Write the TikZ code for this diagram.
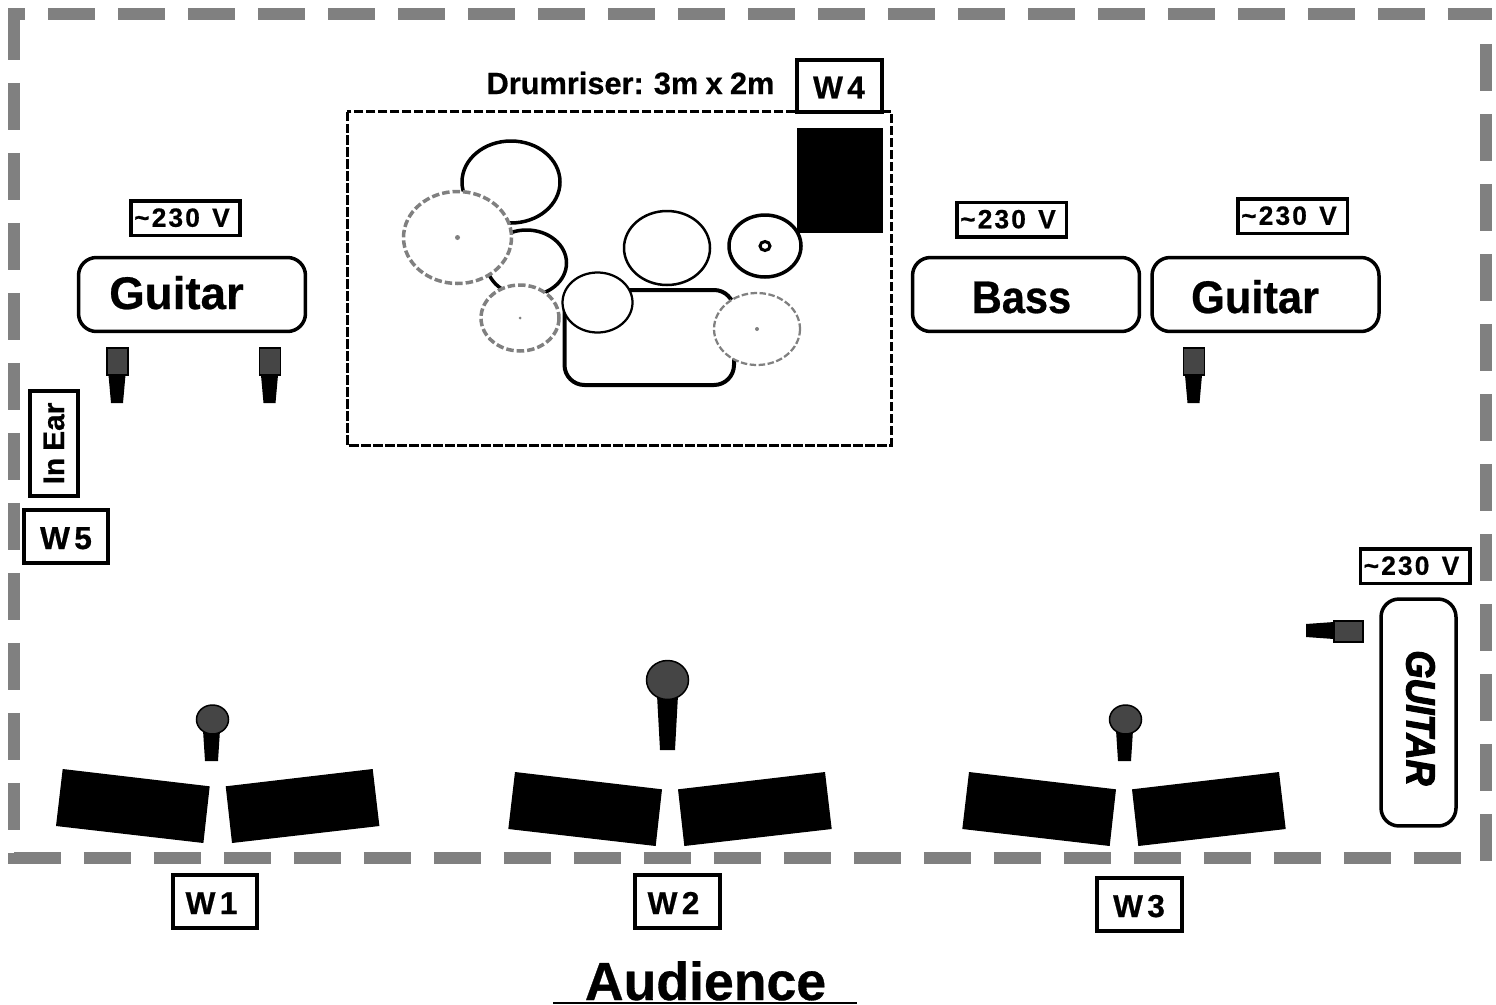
\documentclass[tikz,border=0pt]{standalone}
\usepackage{fontspec}
\setmainfont{Liberation Sans}[BoldFeatures={FakeBold=.6},WordSpace=.85]
\newfontfamily\voltfont[LetterSpace=8,WordSpace=1.3,BoldFeatures={FakeBold=.6}]{Liberation Sans}
\newfontfamily\wedgefont[WordSpace=0.5,BoldFeatures={FakeBold=.6}]{Liberation Sans}
\newfontfamily\heavyfont[BoldItalicFeatures={FakeBold=3}]{Liberation Sans}
\newcommand{\voltage}{\textasciitilde 230 V\hspace*{.14cm}}

\begin{document}
\begin{tikzpicture}
		[x=.02cm,y=-.02cm,
		stage line/.style={line width=.24cm,color=gray,dash pattern=on .94cm off .46cm},
		volt box/.style={draw,line width=.07cm,fill=white,inner sep=0pt,minimum width=2.19cm,minimum height=.69cm,text height=.35cm,text depth=0pt,font=\fontsize{15}{17}\selectfont\bfseries\voltfont},
		wedge box/.style={draw,line width=.08cm,fill=white,inner sep=0pt,minimum width=1.7cm,minimum height=1.06cm,text height=.5cm,text depth=0pt,font=\fontsize{18}{20}\selectfont\bfseries\wedgefont},
		amp box/.style={draw,line width=.07cm,rounded corners=.36cm,inner sep=0pt,minimum width=4.54cm,minimum height=1.48cm},
		amp text/.style={anchor=base,inner sep=0pt,font=\fontsize{26}{28}\selectfont\bfseries},
		drum/.style={draw,line width=.07cm,fill=white},
		cymbal/.style={draw=gray,fill=white,line width=.07cm,dashed,dash pattern=on .15cm off .06cm},
		cymbal dot/.style={fill=gray},
		head/.style={draw,line width=.03cm,fill=black!73}]
		\useasboundingbox (0,0) rectangle (1496,1004);
		
		\draw[stage line,dash phase=.6cm] (8,14) -- (1492,14);
		\draw[stage line] (14,13) -- (14,864);
		\draw[stage line] (14,857.5) -- (1470,857.5);
		\draw[stage line,dash phase=.94cm] (1486,21) -- (1486,861);
		
		\draw[line width=.06cm,dash pattern=on .19cm off .05cm] (347,111.5) rectangle (891.5,445);
		\fill (797,128) rectangle (883,233);
		\draw[drum] (511,182) ellipse (49 and 41);
		\draw[drum] (526.5,263) ellipse (40 and 33);
		\draw[cymbal] (457.5,237.5) ellipse (54 and 46);
		\fill[cymbal dot] (457.5,237.5) circle (2.5);
		\draw[cymbal] (520,318) ellipse (39 and 33);
		\fill[cymbal dot] (520,318) circle (1.5);
		\draw[drum,line width=.08cm,rounded corners=.4cm] (564.5,290) rectangle (734,385);
		\draw[drum,line width=.05cm] (667,248) ellipse (43 and 37);
		\draw[drum] (765,246) ellipse (36 and 31);
		\draw[drum,line width=.06cm] (765,246) ellipse (5 and 4.5);
		\draw[drum,line width=.045cm] (597.5,302.5) ellipse (35 and 30);
		\draw[cymbal,line width=.045cm,dash pattern=on .13cm off .05cm] (757,329) ellipse (43 and 36);
		\fill[cymbal dot] (757,329) circle (2);
		
		\node[font=\fontsize{17.5}{20}\selectfont\bfseries,anchor=base,inner sep=0pt] (riser) at (630.5,94) {Drumriser: 3m x 2m};
		\node[wedge box] (w4) at (839,86) {W 4};
		\node[wedge box] (w5) at (66,536.5) {W 5};
		\node[wedge box] (w1) at (215,901.5) {W 1\hspace*{.14cm}};
		\node[wedge box] (w2) at (677,901.5) {W 2\hspace*{.14cm}};
		\node[wedge box] (w3) at (1139,904.5) {W 3};
		
		\node[volt box] (v1) at (185.5,218) {\voltage};
		\node[volt box] (v2) at (1011.5,219.5) {\voltage};
		\node[volt box] (v3) at (1292.5,216) {\voltage};
		\node[volt box] (v4) at (1415,566) {\voltage};
		
		\node[amp box] (a1) at (192,294.5) {};
		\node[amp box] (a2) at (1026,294.5) {};
		\node[amp box] (a3) at (1265.5,294.5) {};
		\node[amp text] (t1) at (176.5,309) {Guitar};
		\node[amp text,xscale=.91] (t2) at (1021.5,313) {Bass};
		\node[amp text,xscale=.95] (t3) at (1255,313) {Guitar};
		
		\node[draw,line width=.07cm,rounded corners=.36cm,inner sep=0pt,minimum width=1.5cm,minimum height=4.54cm] (a4) at (1418.5,712.5) {};
		\node[rotate=-90,xscale=.89,inner sep=0pt,font=\fontsize{23}{26}\selectfont\bfseries\itshape\heavyfont] (t4) at (1420.5,718) {GUITAR};
		
		\node[draw,line width=.07cm,inner sep=0pt,minimum width=2.11cm,minimum height=.97cm,rotate=90,font=\fontsize{17}{20}\selectfont\bfseries] (ear) at (54,443.5) {In Ear};
		
		\foreach \x in {117.5,270,1194} {
			\fill (\x-9,375) -- (\x+8,375) -- (\x+5.5,403) -- (\x-6.5,403) -- cycle;
			\draw[head] (\x-10.5,348) rectangle (\x+10.5,375);
		}
		\fill (1334,622) -- (1334,639) -- (1306,637) -- (1306,624) -- cycle;
		\draw[head] (1334,621) rectangle (1363,642);
		
		\foreach \x/\y in {-452.3/-3,0/0,454/0} {
			\begin{scope}[shift={(\x,\y)}]
				\fill (515,772) -- (662,789.3) -- (655.7,846) -- (508.3,829) -- cycle;
				\fill (678,789.3) -- (825,772) -- (831.7,829) -- (684.3,846) -- cycle;
			\end{scope}
		}
		
		\foreach \x in {212.5,1125.5} {
			\fill (\x-9.5,730) -- (\x+7.5,730) -- (\x+5.5,761) -- (\x-7.5,761) -- cycle;
			\draw[head] (\x,719.5) ellipse (16 and 14.5);
		}
		\fill (657,695) -- (678,695) -- (675,750) -- (660,750) -- cycle;
		\draw[head] (667.5,680) ellipse (21 and 19.5);
		
		\node[anchor=base,inner sep=0pt,text depth=0pt,font=\fontsize{30.5}{32}\selectfont\bfseries] (aud) at (705.5,1000) {Audience};
		\coordinate (u1) at (553,1002.7);
		\coordinate (u2) at (857,1002.7);
		\draw[line width=.035cm] (u1) -- (u2);
\end{tikzpicture}
\end{document}
